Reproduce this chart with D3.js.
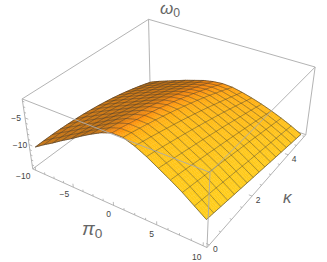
<!DOCTYPE html>
<html><head><meta charset="utf-8"><script src="https://cdn.jsdelivr.net/npm/d3@7"></script>
<style>body{margin:0;background:#fff}text{font-family:"Liberation Sans",sans-serif}</style></head><body><div id="c"></div>
<script>
var W=327,H=262;
// mesh positions
var piVals=[-10,-8.75,-7.5,-6.25,-5,-3.75,-2.5,-1.25,0,1.25,2.5,3.75,5,6.25,7.5,8.75,10];
var kVals=[0,0.3125,0.625,0.9375,1.25,1.5625,1.875,2.1875,2.5,2.8125,3.125,3.4375,3.75,4.0625,4.375,4.6875,5];
// omega0: one line per pi0, running along kappa
var omega=[
[-10.60,-10.55,-10.53,-10.56,-10.63,-10.73,-10.86,-11.04,-11.25,-11.50,-11.78,-12.11,-12.48,-12.88,-13.31,-13.79,-14.30],
[-9.40,-9.39,-9.41,-9.47,-9.56,-9.70,-9.86,-10.06,-10.30,-10.58,-10.88,-11.24,-11.61,-12.03,-12.49,-12.97,-13.50],
[-8.30,-8.33,-8.38,-8.47,-8.60,-8.76,-8.96,-9.19,-9.45,-9.75,-10.08,-10.44,-10.85,-11.29,-11.76,-12.27,-12.80],
[-7.10,-7.17,-7.29,-7.43,-7.60,-7.80,-8.04,-8.30,-8.60,-8.92,-9.29,-9.68,-10.10,-10.55,-11.04,-11.55,-12.10],
[-6.00,-6.13,-6.28,-6.46,-6.67,-6.92,-7.18,-7.47,-7.80,-8.15,-8.53,-8.94,-9.37,-9.84,-10.33,-10.85,-11.40],
[-4.80,-4.98,-5.18,-5.42,-5.66,-5.95,-6.25,-6.59,-6.95,-7.34,-7.75,-8.20,-8.66,-9.17,-9.68,-10.23,-10.80],
[-3.70,-3.93,-4.15,-4.44,-4.73,-5.05,-5.38,-5.76,-6.15,-6.58,-7.00,-7.49,-7.98,-8.50,-9.03,-9.61,-10.20],
[-2.70,-2.95,-3.24,-3.55,-3.87,-4.23,-4.61,-5.02,-5.45,-5.90,-6.39,-6.89,-7.42,-7.99,-8.56,-9.17,-9.80],
[-2.00,-2.31,-2.64,-3.01,-3.37,-3.78,-4.19,-4.64,-5.10,-5.59,-6.09,-6.63,-7.17,-7.76,-8.34,-8.96,-9.60],
[-2.00,-2.34,-2.70,-3.08,-3.47,-3.89,-4.33,-4.78,-5.25,-5.74,-6.25,-6.77,-7.32,-7.90,-8.48,-9.08,-9.70],
[-2.70,-3.07,-3.45,-3.85,-4.25,-4.67,-5.10,-5.55,-6.00,-6.47,-6.95,-7.45,-7.95,-8.47,-9.00,-9.55,-10.10],
[-3.70,-4.06,-4.43,-4.81,-5.20,-5.60,-6.01,-6.42,-6.85,-7.28,-7.73,-8.18,-8.65,-9.13,-9.61,-10.10,-10.60],
[-4.90,-5.24,-5.60,-5.96,-6.33,-6.70,-7.07,-7.46,-7.85,-8.24,-8.65,-9.06,-9.48,-9.90,-10.32,-10.76,-11.20],
[-6.10,-6.42,-6.76,-7.10,-7.44,-7.78,-8.14,-8.49,-8.85,-9.21,-9.59,-9.96,-10.34,-10.72,-11.11,-11.50,-11.90],
[-7.40,-7.71,-8.02,-8.33,-8.65,-8.97,-9.30,-9.62,-9.95,-10.28,-10.62,-10.95,-11.30,-11.65,-12.00,-12.35,-12.70],
[-8.90,-9.18,-9.47,-9.75,-10.04,-10.33,-10.61,-10.91,-11.20,-11.49,-11.79,-12.09,-12.39,-12.69,-12.99,-13.30,-13.60],
[-10.40,-10.66,-10.93,-11.19,-11.45,-11.71,-11.98,-12.24,-12.50,-12.76,-13.03,-13.29,-13.55,-13.81,-14.08,-14.34,-14.60]];
// ticks
var piTicks=[-10,-5,0,5,10],piMinor=[-8.75,-7.5,-6.25,-3.75,-2.5,-1.25,1.25,2.5,3.75,6.25,7.5,8.75];
var kTicks=[0,2,4],kMinor=[0.5,1,1.5,2.5,3,3.5,4.5,5];
var zTicks=[-5,-10],zMinor=[-14,-13,-12,-11,-9,-8,-7,-6,-4,-3,-2];
var piOff=[[-12.5,9],[-9,10],[-5,12],[-5,12],[-6.5,14]];

var X=d3.scaleLinear().domain([-10.4,10.4]).range([0,1]),Y=d3.scaleLinear().domain([-0.1,5.1]).range([0,1]),Z=d3.scaleLinear().domain([-14.8,-1.6]).range([0,1]);

// camera: fit a projective matrix to where the 8 box corners sit on the page
var cor=[[0,0,0,32,168],[0,0,1,23,99],[1,0,0,207,248],[1,0,1,210,173],[0,1,0,150.5,84],[0,1,1,148,18],[1,1,0,306,133],[1,1,1,315,68]];
function solve(A,b){
    var n=b.length;A=A.map(function(r,i){return r.concat(b[i])});
    for(var i=0;i<n;i++){
        var m=i;for(var r=i+1;r<n;r++)if(Math.abs(A[r][i])>Math.abs(A[m][i]))m=r;
        var t=A[i];A[i]=A[m];A[m]=t;
        for(r=0;r<n;r++)if(r!=i){var f=A[r][i]/A[i][i];for(var c=i;c<=n;c++)A[r][c]-=f*A[i][c]}
    }
    return A.map(function(r,i){return r[n]/r[i]})
}
var rows=[],rhs=[];
cor.forEach(function(c){var u=c[0],v=c[1],w=c[2],x=c[3],y=c[4];
    rows.push([u,v,w,1,0,0,0,0,-x*u,-x*v,-x*w]);rhs.push(x);
    rows.push([0,0,0,0,u,v,w,1,-y*u,-y*v,-y*w]);rhs.push(y)});
var ATA=d3.range(11).map(function(i){return d3.range(11).map(function(j){return d3.sum(rows,function(r){return r[i]*r[j]})})}),
    ATb=d3.range(11).map(function(i){return d3.sum(rows,function(r,k){return r[i]*rhs[k]})});
var P=solve(ATA,ATb);
function proj(u,v,w){var d=P[8]*u+P[9]*v+P[10]*w+1;return [(P[0]*u+P[1]*v+P[2]*w+P[3])/d,(P[4]*u+P[5]*v+P[6]*w+P[7])/d,d]}
function pt(i,j){return proj(X(piVals[i]),Y(kVals[j]),Z(omega[i][j]))}

var svg=d3.select("#c").append("svg").attr("width",W).attr("height",H);
var boxBack=svg.append("g"),surf=svg.append("g"),mesh=svg.append("g"),boxFront=svg.append("g"),axes=svg.append("g");
function edge(g,a,b){var p=proj.apply(null,a),q=proj.apply(null,b);g.append("line").attr("x1",p[0]).attr("y1",p[1]).attr("x2",q[0]).attr("y2",q[1]).attr("stroke","#aaa").attr("stroke-width",0.9)}
[[[0,0,0],[0,0,1]],[[0,1,0],[0,1,1]],[[1,1,0],[1,1,1]],[[0,1,1],[1,1,1]],[[0,0,1],[0,1,1]],[[0,0,0],[1,0,0]],[[1,0,0],[1,1,0]],[[0,0,0],[0,1,0]],[[0,1,0],[1,1,0]]].forEach(function(e){edge(boxBack,e[0],e[1])});
[[[1,0,0],[1,0,1]],[[0,0,1],[1,0,1]],[[1,0,1],[1,1,1]]].forEach(function(e){edge(boxFront,e[0],e[1])});

// shading from the surface normal
var ramp=d3.scaleLinear().domain([-0.5,-0.1,0.12,0.26,0.55,0.85]).range(["#8a5214","#a8661a","#d67c12","#fa860c","#ffa90f","#ffd01c"]).clamp(true);
var L=[0.80,-0.42,0.5];
function shade(i,j){
    var i0=Math.max(0,i-1),i1=Math.min(16,i+1),j0=Math.max(0,j-1),j1=Math.min(16,j+1);
    var fu=(0.4*(Z(omega[i1][j])-Z(omega[i0][j])))/(X(piVals[i1])-X(piVals[i0])),
        fv=(0.4*(Z(omega[i][j1])-Z(omega[i][j0])))/(Y(kVals[j1])-Y(kVals[j0]));
    var l=Math.sqrt(fu*fu+fv*fv+1);
    return d3.color(ramp((-fu*L[0]-fv*L[1]+L[2])/l))
}
function bl(s,t,q){return q[0]*(1-s)*(1-t)+q[1]*s*(1-t)+q[2]*(1-s)*t+q[3]*s*t}
var quads=[],sub=4;
for(var j=0;j<16;j++)for(var i=0;i<16;i++){
    var c=[shade(i,j),shade(i+1,j),shade(i,j+1),shade(i+1,j+1)],p=[pt(i,j),pt(i+1,j),pt(i,j+1),pt(i+1,j+1)];
    (function(c,p){
        function at(k){return p.map(function(e){return e[k]})}
        function cr(s,t){return [bl(s,t,at(0)),bl(s,t,at(1))]}
        for(var a=0;a<sub;a++)for(var b=0;b<sub;b++){
            var s=a/sub,t=b/sub,ds=1/sub,ms=s+ds/2,mt=t+ds/2;
            var col="rgb("+["r","g","b"].map(function(n){return bl(ms,mt,c.map(function(e){return e[n]}))}).join(",")+")";
            quads.push({d:[cr(s,t),cr(s+ds,t),cr(s+ds,t+ds),cr(s,t+ds)],z:bl(ms,mt,at(2)),col:col});
        }
    })(c,p);
}
quads.sort(function(a,b){return d3.descending(a.z,b.z)});
var dl=d3.line();
surf.selectAll("path").data(quads).join("path").attr("d",function(d){return dl(d.d)+"Z"}).attr("fill",function(d){return d.col}).attr("stroke",function(d){return d.col}).attr("stroke-width",0.4);

function meshLine(pts,outer){mesh.append("path").attr("d",dl(pts.map(function(q){return q.slice(0,2)}))).attr("fill","none").attr("stroke","#333").attr("stroke-opacity",outer?0.75:0.55).attr("stroke-width",0.75)}
piVals.forEach(function(x,i){meshLine(kVals.map(function(k,j){return pt(i,j)}),i==0||i==16)});
kVals.forEach(function(k,j){meshLine(piVals.map(function(x,i){return pt(i,j)}),j==0||j==16)});

// ticks and labels
function tick(a,b,len){var p=proj.apply(null,a),q=proj.apply(null,b),dx=q[0]-p[0],dy=q[1]-p[1],n=Math.hypot(dx,dy);
    axes.append("line").attr("x1",p[0]).attr("y1",p[1]).attr("x2",p[0]+dx/n*len).attr("y2",p[1]+dy/n*len).attr("stroke","#aaa").attr("stroke-width",0.8)}
function label(p,s,dx,dy){axes.append("text").attr("x",p[0]+dx).attr("y",p[1]+dy).attr("text-anchor","middle").attr("font-size",8.5).attr("fill","#444").text((""+s).replace("-","\u2212"))}
function piTick(x,len){tick([X(x),0,0],[X(x),0,1],len)}
function kTick(k,len){tick([1,Y(k),0],[0,Y(k),0],len)}
function zTick(z,len){tick([0,0,Z(z)],[1,0,Z(z)],len)}
piMinor.forEach(function(x){piTick(x,2)});kMinor.forEach(function(k){kTick(k,2)});zMinor.forEach(function(z){zTick(z,2)});
piTicks.forEach(function(x,i){piTick(x,3.5);label(proj(X(x),0,0),x,piOff[i][0],piOff[i][1])});
kTicks.forEach(function(k){kTick(k,3.5);label(proj(1,Y(k),0),k,6,7)});
zTicks.forEach(function(z){zTick(z,3.5);label(proj(0,0,Z(z)),z,-9,3)});

function name(x,y,s,sub,fs){var t=axes.append("text").attr("x",x).attr("y",y).attr("font-size",fs).attr("fill","#666").attr("font-family","'Liberation Serif',serif").attr("font-style","italic").text(s);
    if(sub)t.append("tspan").attr("dy",3).attr("font-size",fs*0.72).attr("font-style","normal").attr("font-family","'Liberation Sans',sans-serif").text(sub)}
name(82,235,"\u03c0","0",19);name(283,203,"\u03ba","",17);name(160,14,"\u03c9","0",17);
</script></body></html>
